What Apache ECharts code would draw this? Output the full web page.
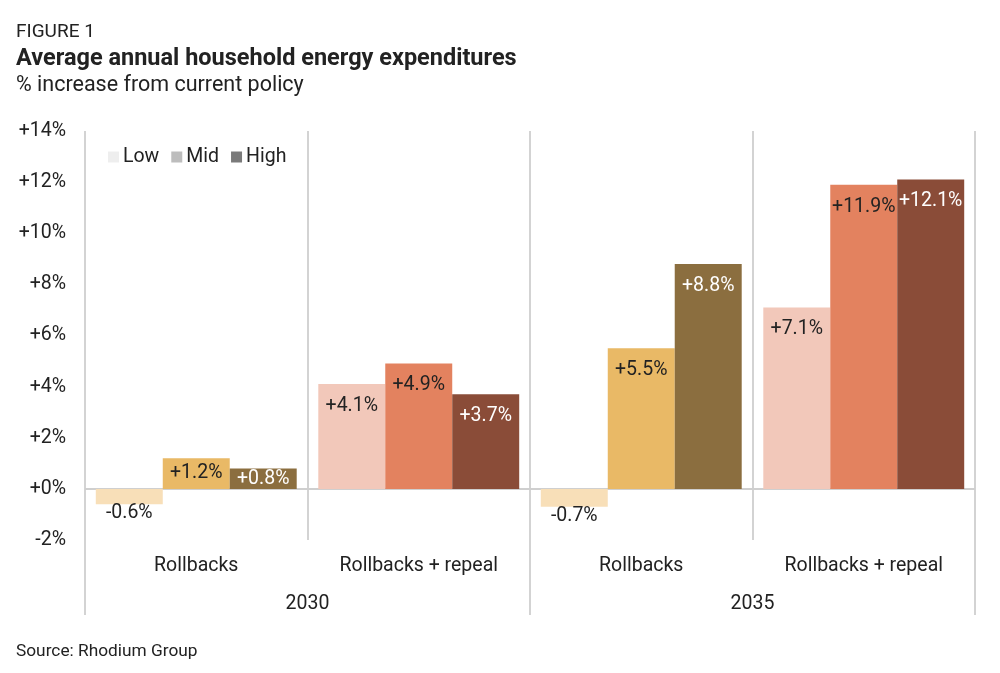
<!DOCTYPE html>
<html>
<head>
<meta charset="utf-8">
<script src="https://cdn.jsdelivr.net/npm/echarts@6/dist/echarts.min.js"></script>
<style>
html,body{margin:0;padding:0;background:#fff;}
#chart{width:1000px;height:673px;}
</style>
</head>
<body>
<div id="chart"></div>
<script>
const categories = ['Rollbacks', 'Rollbacks + repeal', 'Rollbacks', 'Rollbacks + repeal'];
const years = ['2030', '2035'];
const seriesNames = ['Low', 'Mid', 'High'];
const lowValues = [-0.6, 4.1, -0.7, 7.1];
const midValues = [1.2, 4.9, 5.5, 11.9];
const highValues = [0.8, 3.7, 8.8, 12.1];
const legendColors = ['#eeeeee', '#bdbdbd', '#7a7a7a'];
const rollbackColors = ['#f8dfb8', '#e9b966', '#8b6e3f'];
const repealColors = ['#f2c8ba', '#e3825f', '#8a4c38'];
const labelColors = ['#222222', '#222222', '#ffffff'];

const FONT = 'Roboto';
const FS = 19.5;

function fmt(v) {
  const s = Math.abs(v).toFixed(1);
  return (v < 0 ? '-' : '+') + s + '%';
}

function buildData(values, idx) {
  return values.map((v, i) => {
    const color = (i % 2 === 0) ? rollbackColors[idx] : repealColors[idx];
    let label;
    if (v < 0) {
      label = { position: 'bottom', distance: -1, color: '#222222' };
    } else if (v < 2) {
      label = { position: 'inside', color: labelColors[idx] };
    } else {
      label = { position: 'insideTop', distance: 12, color: labelColors[idx] };
    }
    return { value: v, itemStyle: { color: color }, label: label };
  });
}

const allValues = [lowValues, midValues, highValues];

const chart = echarts.init(document.getElementById('chart'), null, { renderer: 'canvas' });

const series = seriesNames.map((name, idx) => {
  const s = {
    name: name,
    type: 'bar',
    xAxisIndex: 0,
    barGap: '0%',
    barCategoryGap: '9.7%',
    itemStyle: { color: legendColors[idx] },
    label: {
      show: true,
      fontFamily: FONT,
      fontSize: FS,
      formatter: p => fmt(p.value)
    },
    data: buildData(allValues[idx], idx)
  };
  if (idx === 0) {
    s.markLine = {
      silent: true,
      symbol: 'none',
      label: { show: false },
      lineStyle: { color: '#cfcfcf', width: 2, type: 'solid' },
      data: [{ yAxis: 0 }],
      z: 1
    };
  }
  return s;
});

chart.setOption({
  animation: false,
  textStyle: { fontFamily: FONT },
  title: [
    { text: 'FIGURE 1', left: 11, top: 18, textStyle: { fontFamily: FONT, fontSize: 19, fontWeight: 'normal', color: '#222' } },
    { text: 'Average annual household energy expenditures', left: 11, top: 42, textStyle: { fontFamily: FONT, fontSize: 23.5, fontWeight: 'bold', color: '#222' } },
    { text: '% increase from current policy', left: 11, top: 70, textStyle: { fontFamily: FONT, fontSize: 21.5, fontWeight: 'normal', color: '#222' } },
    { text: 'Source: Rhodium Group', left: 11, top: 638, textStyle: { fontFamily: FONT, fontSize: 17.3, fontWeight: 'normal', color: '#222' } }
  ],
  legend: {
    left: 103,
    top: 142,
    icon: 'rect',
    itemWidth: 11,
    itemHeight: 11,
    itemGap: 12,
    textStyle: { fontFamily: FONT, fontSize: FS, color: '#222', padding: [0, 0, 0, -1] },
    data: seriesNames
  },
  grid: { left: 85, right: 25, top: 131, bottom: 133, containLabel: false },
  xAxis: [
    {
      type: 'category',
      data: categories,
      position: 'bottom',
      axisLine: { show: false, onZero: false },
      axisTick: { show: false },
      axisLabel: { interval: 0, margin: 16, fontFamily: FONT, fontSize: FS, color: '#222' },
      splitLine: { show: true, interval: 0, lineStyle: { color: '#d3d3d3', width: 2 } }
    },
    {
      type: 'category',
      data: years,
      position: 'bottom',
      axisLine: { show: false, onZero: false },
      axisTick: { show: true, interval: 0, length: 75, lineStyle: { color: '#d3d3d3', width: 2 } },
      axisLabel: { interval: 0, margin: 54, fontFamily: FONT, fontSize: FS, color: '#222' },
      splitLine: { show: false }
    }
  ],
  yAxis: {
    type: 'value',
    min: -2,
    max: 14,
    interval: 2,
    axisLine: { show: false },
    axisTick: { show: false },
    splitLine: { show: false },
    axisLabel: {
      margin: 19,
      fontFamily: FONT,
      fontSize: FS,
      color: '#222',
      formatter: v => (v < 0 ? '-' + Math.abs(v) : '+' + v) + '%'
    }
  },
  series: series
});
</script>
</body>
</html>
